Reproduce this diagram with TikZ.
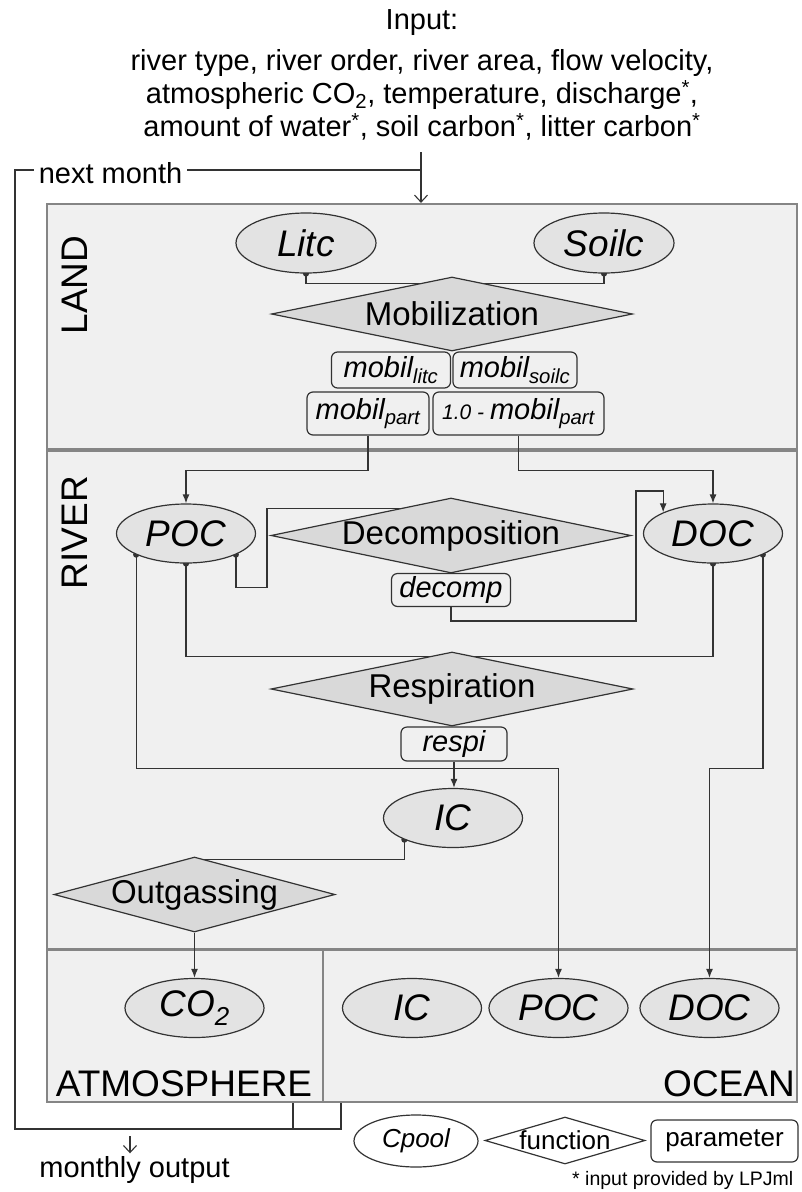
\documentclass[tikz,border=0pt]{standalone}
\usepackage{fontspec}
\setmainfont{Liberation Sans}
\usetikzlibrary{shapes.geometric,arrows.meta,calc}
\pgfdeclarelayer{bg}
\pgfdeclarelayer{edges}
\pgfsetlayers{bg,edges,main}
\definecolor{secbg}{HTML}{F0F0F0}
\definecolor{secline}{HTML}{858585}
\definecolor{ellfill}{HTML}{E3E3E3}
\definecolor{diafill}{HTML}{D9D9D9}
\definecolor{ink}{HTML}{333333}
\begin{document}
\begin{tikzpicture}[x=1pt,y=-1pt,
  secbox/.style={rectangle, draw=secline, line width=2.2pt, fill=secbg, inner sep=0pt},
  seclabel/.style={font=\fontsize{37}{44}\selectfont, inner sep=0pt, text=black},
  poolnode/.style={ellipse, draw=ink, line width=1.2pt, fill=ellfill, minimum width=139pt, minimum height=59pt, inner sep=0pt, font=\fontsize{37}{44}\selectfont\itshape},
  funcnode/.style={diamond, draw=ink, line width=1.2pt, fill=diafill, inner sep=-2pt, font=\fontsize{33}{40}\selectfont},
  parbox/.style={rectangle, rounded corners=6pt, draw=ink, line width=1.2pt, fill=secbg, inner sep=0pt, font=\fontsize{29}{35}\selectfont\itshape},
  conn/.style={draw=ink, line width=1.3pt},
  arr/.style={conn, -{Latex[length=9pt,width=7pt]}},
  src/.style={conn, {Circle[length=6pt]}-, shorten <=-3pt},
  srcarr/.style={conn, {Circle[length=6pt]}-{Latex[length=9pt,width=7pt]}, shorten <=-3pt},
  thinarr/.style={draw=ink, line width=1.1pt, -{Straight Barb[length=7pt,width=13pt]}},
  plain/.style={font=\fontsize{29}{35}\selectfont, inner sep=0pt}
]
\useasboundingbox (0,0) rectangle (801,1192);
\begin{pgfonlayer}{bg}
  \fill[white] (0,0) rectangle (801,1192);
  \node[secbox, minimum width=750pt, minimum height=245pt] (land) at (422,326.5) {};
  \node[secbox, minimum width=750pt, minimum height=498pt] (river) at (422,700) {};
  \node[secbox, minimum width=276pt, minimum height=152pt] (atm) at (185,1026) {};
  \node[secbox, minimum width=474pt, minimum height=152pt] (ocean) at (560,1026) {};
\end{pgfonlayer}

% section labels
\node[seclabel, rotate=90] (landlab) at (75,285) {LAND};
\node[seclabel, rotate=90] (riverlab) at (75,532.5) {RIVER};
\node[seclabel, anchor=base] (atmlab) at (184,1096) {ATMOSPHERE};
\node[seclabel, anchor=base] (oceanlab) at (729,1096) {OCEAN};

% input
\node[plain, font=\fontsize{29}{33}\selectfont, align=center, anchor=north] (input) at (422,9)
  {Input:\\[8pt]
   river type, river order, river area, flow velocity,\\
   atmospheric CO\textsubscript{2}, temperature, discharge\textsuperscript{*},\\
   amount of water\textsuperscript{*}, soil carbon\textsuperscript{*}, litter carbon\textsuperscript{*}};
\coordinate (inbot) at (421,152);

% land
\node[poolnode, minimum width=140pt, minimum height=60pt] (Litc) at (306,243) {Litc};
\node[poolnode, minimum width=140pt, minimum height=60pt] (Soilc) at (604,243) {Soilc};
\node[funcnode, aspect=4.9, minimum width=361pt, minimum height=74pt] (Mob) at (452,314) {Mobilization};
\node[parbox, minimum width=119pt, minimum height=36pt] (mlitc) at (391,370) {mobil\textsubscript{litc}};
\node[parbox, minimum width=124pt, minimum height=36pt] (msoilc) at (515,370) {mobil\textsubscript{soilc}};
\node[parbox, minimum width=122pt, minimum height=43pt] (mpart) at (368,413.5) {mobil\textsubscript{part}};
\node[parbox, minimum width=171pt, minimum height=43pt] (ompart) at (518.5,413.5) {{\fontsize{21}{25}\selectfont 1.0 - }mobil\textsubscript{part}};

% river
\node[poolnode] (POC) at (186,533.5) {POC};
\node[poolnode] (DOC) at (713,533.5) {DOC};
\node[funcnode, aspect=4.8, minimum width=360pt, minimum height=75pt] (Dec) at (451,535.5) {Decomposition};
\node[parbox, minimum width=119pt, minimum height=33pt] (dcp) at (451,590) {decomp};
\node[funcnode, aspect=4.9, minimum width=362pt, minimum height=74pt] (Resp) at (452,689) {Respiration};
\node[parbox, minimum width=106pt, minimum height=34pt] (rsp) at (454,744) {respi};
\node[poolnode] (IC) at (453,818) {IC};
\node[funcnode, aspect=3.75, minimum width=281pt, minimum height=75pt] (Out) at (194.5,894.5) {Outgassing};

% atmosphere / ocean
\node[poolnode] (CO2) at (194.5,1008) {CO\textsubscript{2}};
\node[poolnode] (oIC) at (412,1008) {IC};
\node[poolnode] (oPOC) at (558.5,1008) {POC};
\node[poolnode] (oDOC) at (709.5,1008) {DOC};

% loop labels
\node[plain, fill=white, inner xsep=5pt] (nextm) at (110.5,173) {next month};
\node[plain, inner sep=3pt] (mout) at (134.5,1170) {monthly output};
\coordinate (moutTop) at (130,1136);
\coordinate (loopBL) at (15,1129);
\coordinate (loopTL) at (15,170);

% legend
\node[poolnode, fill=white, minimum width=124pt, minimum height=52pt, font=\fontsize{26}{31}\selectfont\itshape] (lgpool) at (416,1141) {Cpool};
\node[funcnode, fill=white, aspect=3.4, minimum width=160pt, minimum height=47pt, font=\fontsize{26}{31}\selectfont] (lgfunc) at (565,1140.5) {function};
\node[parbox, fill=white, minimum width=147pt, minimum height=42pt, font=\fontsize{26}{31}\selectfont] (lgpar) at (724.5,1141) {parameter};
\node[anchor=base west, inner sep=0pt, font=\fontsize{19.5}{23}\selectfont] (note) at (572,1185) {* input provided by LPJml};

\begin{pgfonlayer}{edges}
  \draw[thinarr] (inbot) -- (inbot |- land.north);
  \draw[conn] ([xshift=19pt]ocean.south west) |- (loopBL) -- (loopTL) -- (inbot |- loopTL);
  \draw[conn] ($(atm.south east)+(-31,0)$) |- (loopBL);
  \draw[thinarr] (moutTop) -- (moutTop |- mout.north);

  \draw[src] (Litc.south) |- ([yshift=-7pt]Mob.north);
  \draw[src] (Soilc.south) |- ([yshift=-7pt]Mob.north);
  \draw[arr] (mpart.south) -- ++(0,35) -| (POC.north);
  \draw[arr] (ompart.south) -- ++(0,35) -| (DOC.north);
  \draw[src] (POC.-23) |- ++(31,33) |- ([yshift=27pt]Dec.center);
  \draw[arr] (dcp.south) |- ++(185,14) -- ++(0,-130) -| (DOC.157);
  \draw[src] (POC.south) |- ([yshift=-5pt]Resp.north);
  \draw[src] (DOC.south) |- ([yshift=-5pt]Resp.north);
  \draw[srcarr] (POC.-157) -- ++(0,214) -| (oPOC.north);
  \draw[srcarr] (DOC.-23) -- ++(0,214) -| (oDOC.north);
  \draw[arr] (rsp.south) -- (rsp.south |- IC.north);
  \draw[src] (IC.-156) |- ([yshift=-3pt]Out.north);
  \draw[arr] (Out.south) -- (CO2.north);
\end{pgfonlayer}
\end{tikzpicture}
\end{document}
